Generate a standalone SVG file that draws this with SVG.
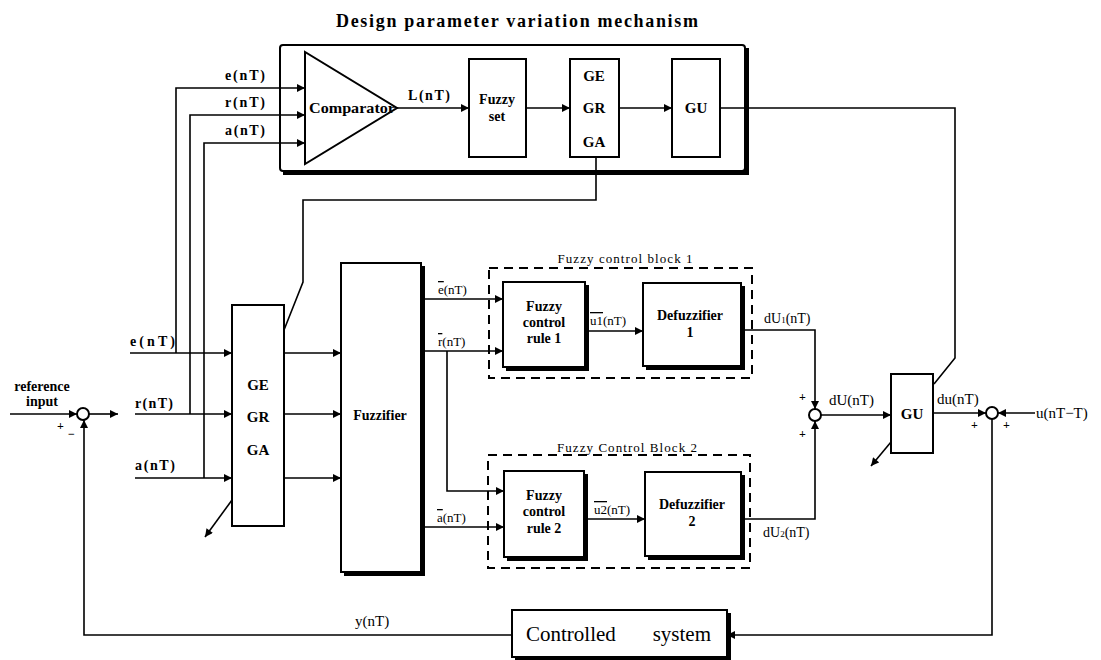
<svg xmlns="http://www.w3.org/2000/svg" width="1101" height="660" viewBox="0 0 1101 660">
<defs>
<marker id="ah" viewBox="0 0 10 10" refX="10" refY="5" markerWidth="9" markerHeight="8" orient="auto" markerUnits="userSpaceOnUse"><path d="M0,0 L10,5 L0,10 z" fill="#000"/></marker>
<style>
.ln{fill:none;stroke:#000;stroke-width:1.6}
.box{fill:#fff;stroke:#000;stroke-width:2}
.sh{fill:none;stroke:#000;stroke-width:4}
.dash{fill:none;stroke:#000;stroke-width:2;stroke-dasharray:9 6}
.t{font-family:"Liberation Serif","DejaVu Serif",serif;font-weight:bold;font-size:14px;fill:#000}
.c{text-anchor:middle}
.s{font-family:"Liberation Serif","DejaVu Serif",serif;font-size:13px;fill:#000}
.ol{text-decoration:overline}
</style>
</defs>
<rect width="1101" height="660" fill="#fff"/>
<text class="t c" x="517" y="27" style="font-size:18px" textLength="362" lengthAdjust="spacing">Design parameter variation mechanism</text>

<g id="mechanism">
<rect class="box" x="280" y="45" width="465" height="126" rx="3"/>
<path class="sh" d="M747,48 V173 H283"/>
</g>

<g id="comparator">
<polygon points="305,52 305,164 397,108" fill="#fff" stroke="#000" stroke-width="2"/>
<text class="t" x="309" y="113" textLength="86" lengthAdjust="spacingAndGlyphs">Comparator</text>
</g>

<g id="fuzzyset">
<rect class="box" x="469" y="59" width="57" height="98"/>
<text class="t c" x="497" y="104">Fuzzy</text>
<text class="t c" x="497" y="121">set</text>
</g>

<g id="gains-top">
<rect class="box" x="570" y="59" width="49" height="98"/>
<text class="t c" x="594" y="81" style="font-size:15px">GE</text>
<text class="t c" x="594" y="113" style="font-size:15px">GR</text>
<text class="t c" x="594" y="147" style="font-size:15px">GA</text>
</g>

<g id="gu-top">
<rect class="box" x="672" y="59" width="48" height="98"/>
<text class="t c" x="696" y="113" style="font-size:15px">GU</text>
</g>

<g id="gains-low">
<rect class="box" x="232" y="305" width="52" height="221"/>
<text class="t c" x="258" y="390" style="font-size:15px">GE</text>
<text class="t c" x="258" y="422" style="font-size:15px">GR</text>
<text class="t c" x="258" y="455" style="font-size:15px">GA</text>
</g>

<g id="fuzzifier">
<rect class="box" x="341" y="263" width="80" height="309"/>
<path class="sh" d="M423,266 V574 H344"/>
<text class="t c" x="380" y="420">Fuzzifier</text>
</g>

<g id="block1">
<rect class="dash" x="489" y="268" width="263" height="110"/>
<rect x="556" y="252" width="140" height="14" fill="#fff"/>
<text class="s c" x="625" y="263" textLength="135" lengthAdjust="spacing">Fuzzy control block  1</text>
</g>

<g id="rule1">
<rect class="box" x="503" y="282" width="82" height="85"/>
<path class="sh" d="M587,285 V369 H506"/>
<text class="t c" x="544" y="311">Fuzzy</text>
<text class="t c" x="544" y="327">control</text>
<text class="t c" x="544" y="343">rule 1</text>
</g>

<g id="defuzz1">
<rect class="box" x="643" y="283" width="98" height="83"/>
<path class="sh" d="M743,286 V368 H646"/>
<text class="t c" x="690" y="320">Defuzzifier</text>
<text class="t c" x="690" y="337">1</text>
</g>

<g id="block2">
<rect class="dash" x="488" y="455" width="262" height="113"/>
<rect x="555" y="440" width="144" height="14" fill="#fff"/>
<text class="s c" x="627" y="452" textLength="140" lengthAdjust="spacing">Fuzzy Control Block  2</text>
</g>

<g id="rule2">
<rect class="box" x="504" y="471" width="80" height="86"/>
<path class="sh" d="M586,474 V559 H507"/>
<text class="t c" x="544" y="500">Fuzzy</text>
<text class="t c" x="544" y="516">control</text>
<text class="t c" x="544" y="533">rule 2</text>
</g>

<g id="defuzz2">
<rect class="box" x="645" y="472" width="96" height="84"/>
<path class="sh" d="M743,475 V558 H648"/>
<text class="t c" x="692" y="509">Defuzzifier</text>
<text class="t c" x="692" y="526">2</text>
</g>

<g id="gu-low">
<rect class="box" x="891" y="374" width="42" height="79"/>
<text class="t c" x="912" y="419" style="font-size:15px">GU</text>
</g>

<g id="plant">
<rect class="box" x="512" y="610" width="215" height="47"/>
<path class="sh" d="M729,613 V659 H515"/>
<text x="526" y="641" font-family="Liberation Serif, serif" font-size="21">Controlled</text>
<text x="711" y="641" text-anchor="end" font-family="Liberation Serif, serif" font-size="21">system</text>
</g>

<g id="sum1"><circle cx="83" cy="414" r="6" fill="#fff" stroke="#000" stroke-width="2"/></g>
<g id="sum2"><circle cx="815" cy="415" r="6" fill="#fff" stroke="#000" stroke-width="2"/></g>
<g id="sum3"><circle cx="992" cy="413" r="6" fill="#fff" stroke="#000" stroke-width="2"/></g>

<g id="connectors">
<path class="ln" d="M176,353 V88 H305" marker-end="url(#ah)"/>
<path class="ln" d="M190,414 V115 H305" marker-end="url(#ah)"/>
<path class="ln" d="M204,478 V143 H305" marker-end="url(#ah)"/>
<path class="ln" d="M397,108 H469" marker-end="url(#ah)"/>
<path class="ln" d="M526,108 H570" marker-end="url(#ah)"/>
<path class="ln" d="M619,108 H672" marker-end="url(#ah)"/>
<path class="ln" d="M720,108 H955 V358 L934,384"/>
<path class="ln" d="M596,157 V200 H303 V282 L284,330"/>
<path class="ln" d="M891,442 L871,466" marker-end="url(#ah)"/>
<path class="ln" d="M232,500 L205,537" marker-end="url(#ah)"/>
<path class="ln" d="M130,353 H232" marker-end="url(#ah)"/>
<path class="ln" d="M135,414 H232" marker-end="url(#ah)"/>
<path class="ln" d="M135,478 H232" marker-end="url(#ah)"/>
<path class="ln" d="M284,353 H341" marker-end="url(#ah)"/>
<path class="ln" d="M284,414 H341" marker-end="url(#ah)"/>
<path class="ln" d="M284,478 H341" marker-end="url(#ah)"/>
<path class="ln" d="M10,414 H77" marker-end="url(#ah)"/>
<path class="ln" d="M89,414 H118" marker-end="url(#ah)"/>
<path class="ln" d="M512,635 H84 V420" marker-end="url(#ah)"/>
<path class="ln" d="M423,299 H503" marker-end="url(#ah)"/>
<path class="ln" d="M423,351 H503" marker-end="url(#ah)"/>
<path class="ln" d="M447,351 V491 H504" marker-end="url(#ah)"/>
<path class="ln" d="M423,527 H504" marker-end="url(#ah)"/>
<path class="ln" d="M585,331 H643" marker-end="url(#ah)"/>
<path class="ln" d="M584,519 H645" marker-end="url(#ah)"/>
<path class="ln" d="M741,330 H815 V409" marker-end="url(#ah)"/>
<path class="ln" d="M741,519 H815 V421" marker-end="url(#ah)"/>
<path class="ln" d="M821,415 H891" marker-end="url(#ah)"/>
<path class="ln" d="M933,413 H986" marker-end="url(#ah)"/>
<path class="ln" d="M1035,413 H998" marker-end="url(#ah)"/>
<path class="ln" d="M992,419 V635 H727" marker-end="url(#ah)"/>
</g>

<g id="labels">
<text class="t" x="225" y="80" textLength="40" lengthAdjust="spacing">e(nT)</text>
<text class="t" x="225" y="107" textLength="40" lengthAdjust="spacing">r(nT)</text>
<text class="t" x="225" y="135" textLength="40" lengthAdjust="spacing">a(nT)</text>
<text class="t" x="408" y="100" textLength="42" lengthAdjust="spacing">L(nT)</text>
<text class="t" x="130" y="346" textLength="45" lengthAdjust="spacing">e(nT)</text>
<text class="t" x="135" y="408" textLength="38" lengthAdjust="spacing">r(nT)</text>
<text class="t" x="135" y="470" textLength="40" lengthAdjust="spacing">a(nT)</text>
<text class="t c" x="42" y="391" style="font-size:14px">reference</text>
<text class="t c" x="42" y="406" style="font-size:14px">input</text>
<text class="t" x="57" y="430" style="font-size:12px">+</text>
<text class="t" x="68" y="438" style="font-size:12px">−</text>
<text class="s" x="438" y="294"><tspan class="ol">e</tspan>(nT)</text>
<text class="s" x="438" y="346"><tspan class="ol">r</tspan>(nT)</text>
<text class="s" x="437" y="522"><tspan class="ol">a</tspan>(nT)</text>
<text class="s" x="590" y="325"><tspan class="ol">u1</tspan>(nT)</text>
<text class="s" x="594" y="514"><tspan class="ol">u2</tspan>(nT)</text>
<text class="s" x="764" y="323" style="font-size:14px">dU<tspan style="font-size:9px">1</tspan>(nT)</text>
<text class="s" x="763" y="537" style="font-size:14px">dU<tspan style="font-size:9px">2</tspan>(nT)</text>
<text class="s" x="829" y="405" style="font-size:15px">dU(nT)</text>
<text class="s" x="937" y="404" style="font-size:15px">du(nT)</text>
<text class="s" x="1036" y="418" style="font-size:15px">u(nT−T)</text>
<text class="s" x="355" y="626" style="font-size:15px">y(nT)</text>
<text class="t" x="799" y="401" style="font-size:12px">+</text>
<text class="t" x="799" y="438" style="font-size:12px">+</text>
<text class="t" x="971" y="429" style="font-size:12px">+</text>
<text class="t" x="1003" y="429" style="font-size:12px">+</text>
</g>
</svg>
